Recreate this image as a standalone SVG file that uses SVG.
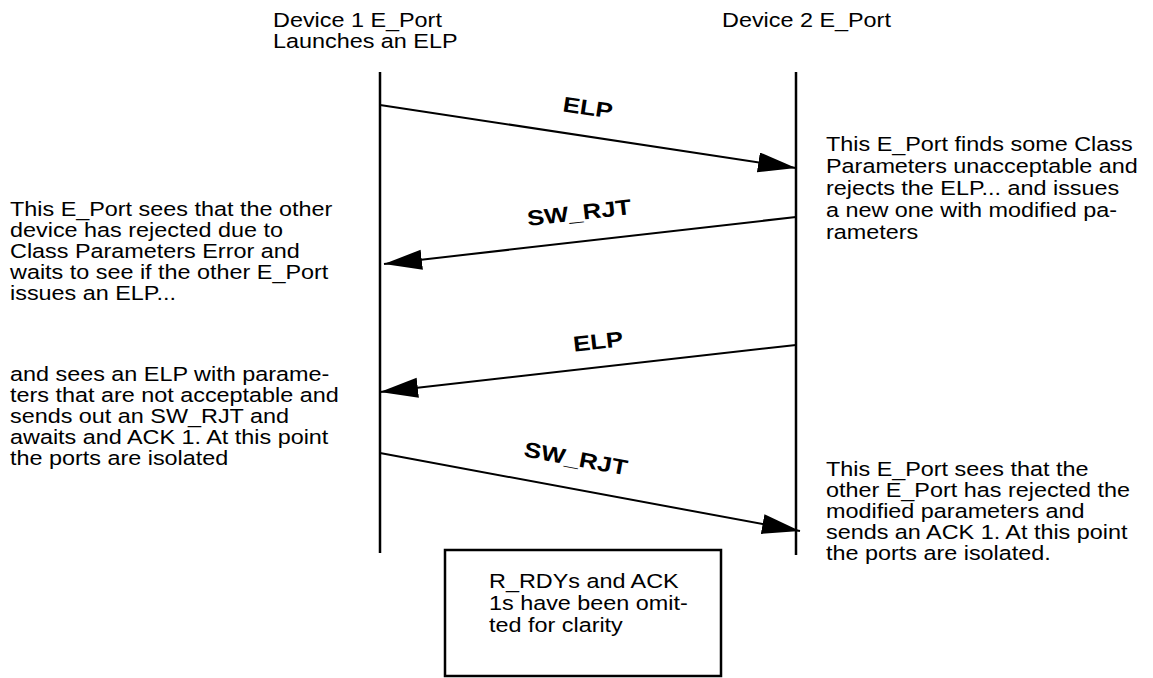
<svg xmlns="http://www.w3.org/2000/svg" width="1153" height="678" viewBox="0 0 1153 678">
<style>
.t{font-family:"Liberation Sans",Arial,sans-serif;font-size:19.5px;fill:#000}
.b{font-family:"Liberation Sans",Arial,sans-serif;font-size:21.5px;font-weight:bold;fill:#000}
.life{stroke:#000;stroke-width:2.5;fill:none}
.msg{stroke:#000;stroke-width:2;fill:none;marker-end:url(#ah)}
</style>
<defs>
<marker id="ah" markerUnits="userSpaceOnUse" markerWidth="40" markerHeight="22" refX="38" refY="10" orient="auto">
<path d="M0,0 L38,10 L0,20 z" fill="#000"/>
</marker>
</defs>
<rect width="1153" height="678" fill="#fff"/>
<g id="device1">
<text class="t" transform="translate(273,27) scale(1.2,1)"><tspan x="0" y="0">Device 1 E_Port</tspan><tspan x="0" y="21">Launches an ELP</tspan></text>
<line class="life" x1="380" y1="72" x2="380" y2="553"/>
</g>
<g id="device2">
<text class="t" transform="translate(722,27) scale(1.2,1)">Device 2 E_Port</text>
<line class="life" x1="796" y1="72" x2="796" y2="555"/>
</g>
<g id="connectors">
<line class="msg" x1="380" y1="105" x2="796" y2="168"/>
<line class="msg" x1="796" y1="217" x2="384" y2="264"/>
<line class="msg" x1="796" y1="345" x2="380" y2="392"/>
<line class="msg" x1="380" y1="453" x2="800" y2="531"/>
<text class="b" text-anchor="middle" transform="translate(588,107) rotate(8.6) scale(1.2,1)" y="8">ELP</text>
<text class="b" text-anchor="middle" transform="translate(579,212) rotate(-6.5) scale(1.2,1)" y="8">SW_RJT</text>
<text class="b" text-anchor="middle" transform="translate(598,341) rotate(-6.5) scale(1.2,1)" y="8">ELP</text>
<text class="b" text-anchor="middle" transform="translate(576,458) rotate(10.5) scale(1.2,1)" y="8">SW_RJT</text>
</g>
<g id="note-left-1">
<text class="t" transform="translate(10,216) scale(1.2,1)"><tspan x="0" y="0">This E_Port sees that the other</tspan><tspan x="0" y="21">device has rejected due to</tspan><tspan x="0" y="42">Class Parameters Error and</tspan><tspan x="0" y="63">waits to see if the other E_Port</tspan><tspan x="0" y="84">issues an ELP...</tspan></text>
</g>
<g id="note-left-2">
<text class="t" transform="translate(10,381) scale(1.2,1)"><tspan x="0" y="0">and sees an ELP with parame-</tspan><tspan x="0" y="21">ters that are not acceptable and</tspan><tspan x="0" y="42">sends out an SW_RJT and</tspan><tspan x="0" y="63">awaits and ACK 1. At this point</tspan><tspan x="0" y="84">the ports are isolated</tspan></text>
</g>
<g id="note-right-1">
<text class="t" transform="translate(826,151) scale(1.2,1)"><tspan x="0" y="0">This E_Port finds some Class</tspan><tspan x="0" y="22">Parameters unacceptable and</tspan><tspan x="0" y="44">rejects the ELP... and issues</tspan><tspan x="0" y="66">a new one with modified pa-</tspan><tspan x="0" y="88">rameters</tspan></text>
</g>
<g id="note-right-2">
<text class="t" transform="translate(826,476) scale(1.2,1)"><tspan x="0" y="0">This E_Port sees that the</tspan><tspan x="0" y="21">other E_Port has rejected the</tspan><tspan x="0" y="42">modified parameters and</tspan><tspan x="0" y="63">sends an ACK 1. At this point</tspan><tspan x="0" y="84">the ports are isolated.</tspan></text>
</g>
<g id="note-box">
<rect x="445" y="550" width="276" height="126" fill="#fff" stroke="#000" stroke-width="2.5"/>
<text class="t" transform="translate(489,588) scale(1.2,1)"><tspan x="0" y="0">R_RDYs and ACK</tspan><tspan x="0" y="22">1s have been omit-</tspan><tspan x="0" y="44">ted for clarity</tspan></text>
</g>
</svg>
